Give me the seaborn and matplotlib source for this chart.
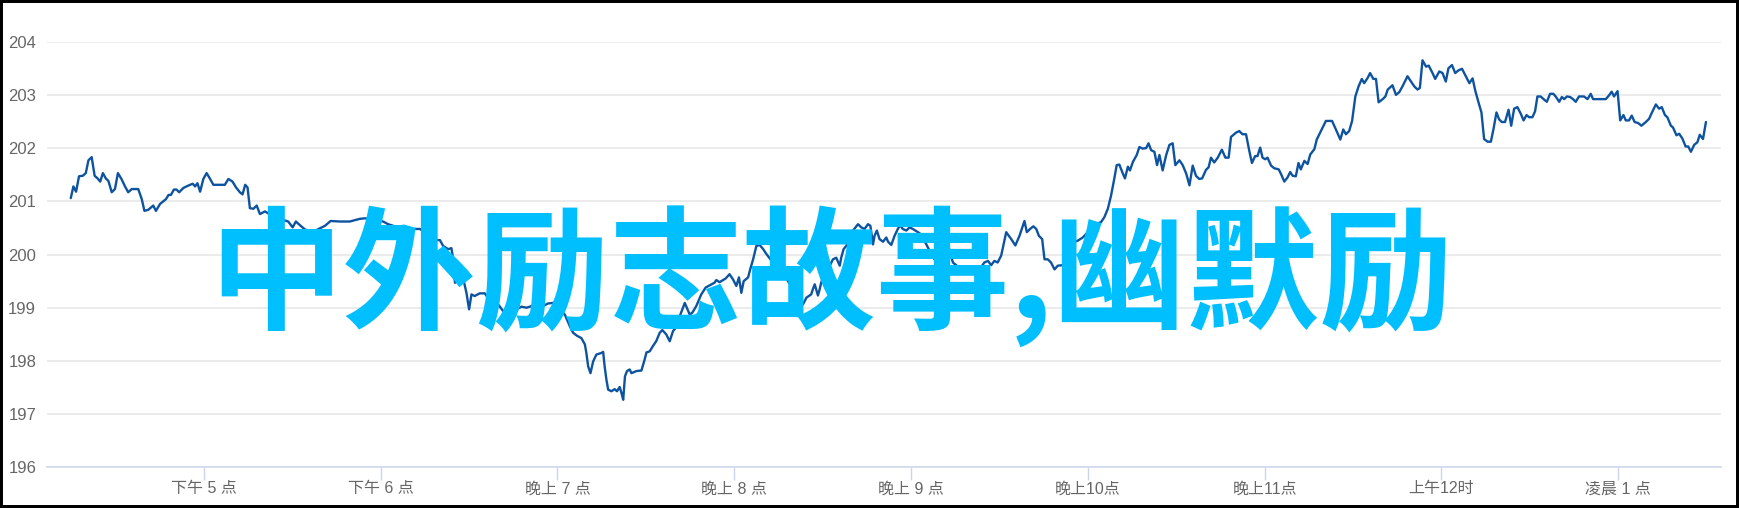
import matplotlib
matplotlib.use("Agg")
import matplotlib.pyplot as plt
import seaborn as sns
import pandas as pd
from matplotlib.patches import Rectangle

# 分钟数 (从 16:00 起算) 与价格, 按时间段分开记录
minutes_a = [14.8, 15.7, 16.6, 17.6, 18.9, 19.9, 20.8, 21.9, 22.9, 23.9,
             24.8, 25.7, 26.7, 27.6, 28.7, 29.8, 30.8, 32.1, 33.2, 34.3,
             35.5, 37.7, 38.9, 39.8, 41.1, 42.8, 43.7, 45.1, 47.1, 48.0,
             48.8, 49.8, 50.7, 51.6, 53.0, 54.1, 55.3, 56.2, 57.0, 57.8,
             58.7, 59.8, 60.9, 62.1, 63.2, 67.1, 68.3, 69.7, 70.9, 72.2,
             73.1, 74.0, 74.8, 75.6, 76.8, 77.9, 79.0, 80.7, 82.2, 83.5,
             85.2, 86.9, 88.6, 90.1, 91.2, 92.6, 94.3, 96.0, 98.2, 101.1,
             103.0]
price_a = [201.06, 201.28, 201.18, 201.47, 201.48, 201.53, 201.77, 201.83, 201.48, 201.43,
           201.37, 201.53, 201.43, 201.38, 201.17, 201.23, 201.53, 201.41, 201.28, 201.17,
           201.23, 201.23, 201.04, 200.82, 200.84, 200.92, 200.82, 200.95, 201.04, 201.12,
           201.12, 201.22, 201.22, 201.17, 201.25, 201.28, 201.31, 201.33, 201.28, 201.34,
           201.18, 201.42, 201.53, 201.42, 201.31, 201.31, 201.42, 201.37, 201.26, 201.17,
           201.13, 201.31, 201.26, 200.87, 200.86, 200.92, 200.76, 200.81, 200.76, 200.69,
           200.66, 200.65, 200.62, 200.51, 200.62, 200.55, 200.47, 200.44, 200.46, 200.54,
           200.63]

minutes_b = [106.1, 109.5, 112.9, 114.6, 117.4, 120.8, 122.5, 124.2, 125.9, 128.8,
             131.6, 133.3, 136.1, 138.9, 140.1, 141.2, 142.9, 144.0, 144.6, 145.2,
             146.8, 148.2, 149.1, 150.0, 150.8, 151.9, 153.6, 155.3, 157.6, 159.9,
             161.5, 163.8, 166.1, 167.8, 169.5, 172.3, 175.1, 176.8, 178.5, 180.8,
             182.5, 184.2, 185.3, 186.7, 188.1, 189.3, 189.8, 190.4, 191.2, 192.1,
             193.2, 194.9, 195.5, 196.0, 196.6, 197.2, 198.3, 199.4, 200.2, 201.1,
             201.7, 202.3, 202.9, 203.6, 204.5]
price_b = [200.62, 200.62, 200.67, 200.68, 200.66, 200.62, 200.57, 200.54, 200.48, 200.46,
           200.48, 200.48, 200.38, 200.27, 200.27, 200.16, 200.10, 200.12, 199.91, 199.47,
           199.53, 199.50, 199.28, 198.97, 199.25, 199.22, 199.27, 199.27, 199.10, 199.06,
           198.94, 198.94, 198.97, 199.02, 199.00, 199.05, 199.03, 199.08, 199.09, 198.97,
           198.87, 198.65, 198.53, 198.47, 198.43, 198.31, 198.15, 197.90, 197.77, 197.99,
           198.12, 198.15, 198.17, 197.90, 197.65, 197.46, 197.43, 197.47, 197.43, 197.51,
           197.40, 197.27, 197.71, 197.81, 197.84]

minutes_c = [205.1, 206.8, 208.5, 209.6, 210.2, 211.3, 212.4, 213.5, 214.7, 215.6,
             216.9, 218.1, 219.2, 220.1, 221.5, 223.2, 224.9, 225.8, 227.1, 228.8,
             230.3, 231.6, 233.3, 233.9, 235.0, 237.1, 238.4, 239.6, 240.7, 241.6,
             242.4, 243.2, 244.7, 245.4, 246.4, 247.5, 248.6, 249.7, 250.9, 253.1,
             255.4, 257.7, 259.9, 262.7, 263.3, 264.5, 266.1, 266.7, 267.3, 268.4,
             269.0, 269.5, 270.7, 271.8, 273.5, 274.6, 275.8, 276.3, 277.1, 278.0,
             279.2, 280.3, 282.0, 283.1, 284.2, 285.4, 286.2, 287.1, 287.6, 288.4,
             289.3, 290.5, 291.6, 292.2, 293.3, 294.4, 295.5, 296.3, 297.2, 298.4,
             299.5]
price_c = [197.77, 197.81, 197.82, 198.03, 198.16, 198.18, 198.28, 198.37, 198.53, 198.58,
           198.50, 198.37, 198.56, 198.62, 198.84, 199.09, 198.87, 198.91, 199.03, 199.25,
           199.38, 199.42, 199.47, 199.52, 199.48, 199.55, 199.63, 199.53, 199.41, 199.57,
           199.28, 199.50, 199.57, 199.72, 199.91, 200.16, 200.18, 200.11, 200.01, 199.85,
           199.60, 199.55, 199.35, 199.16, 199.06, 199.19, 199.25, 199.35, 199.44, 199.23,
           199.35, 199.47, 199.66, 199.72, 199.91, 199.94, 199.79, 199.94, 200.10, 200.16,
           200.29, 200.45, 200.57, 200.51, 200.48, 200.57, 200.54, 200.19, 200.35, 200.45,
           200.29, 200.24, 200.32, 200.24, 200.18, 200.35, 200.48, 200.55, 200.48, 200.45,
           200.51]

minutes_d = [300.6, 302.9, 305.1, 307.4, 309.7, 311.9, 313.0, 314.2, 316.4, 318.7,
             321.0, 323.2, 324.9, 326.1, 327.2, 328.3, 329.4, 330.6, 332.3, 334.0,
             335.4, 336.8, 338.5, 339.3, 340.4, 341.5, 342.5, 343.4, 344.5, 345.3,
             346.4, 347.5, 348.7, 349.8, 351.5, 353.2, 354.9, 356.6, 358.3, 360.0,
             362.8, 364.5, 365.6, 366.8, 367.9, 369.0, 369.8, 370.7, 371.9, 372.6,
             373.6, 374.3, 375.3, 376.6, 377.5, 378.6, 379.8, 380.6, 381.5, 382.6,
             383.5, 384.3, 385.4, 386.6, 387.7, 388.8, 389.7, 391.1, 392.2, 393.4,
             394.5]
price_d = [200.48, 200.40, 200.20, 199.95, 199.80, 199.79, 200.10, 199.85, 199.75, 199.70,
           199.70, 199.72, 199.85, 199.88, 199.80, 199.88, 199.85, 199.98, 200.42, 200.29,
           200.17, 200.35, 200.63, 200.42, 200.48, 200.53, 200.48, 200.35, 200.29, 199.91,
           199.91, 199.85, 199.72, 199.79, 199.80, 200.04, 200.23, 200.26, 200.32, 200.42,
           200.57, 200.61, 200.70, 200.86, 201.11, 201.43, 201.68, 201.69, 201.52, 201.43,
           201.65, 201.58, 201.74, 201.87, 202.02, 201.99, 202.00, 202.09, 201.96, 201.93,
           201.68, 201.87, 201.58, 201.87, 202.06, 202.09, 201.68, 201.77, 201.68, 201.52,
           201.30]

minutes_e = [395.6, 396.7, 397.8, 398.8, 400.1, 401.0, 401.8, 402.9, 404.1, 405.5,
             406.7, 407.8, 408.6, 410.3, 411.4, 412.5, 413.7, 414.8, 415.7, 416.8,
             417.6, 418.5, 419.3, 420.2, 421.0, 422.2, 423.3, 424.8, 425.6, 426.7,
             427.8, 428.7, 429.5, 430.6, 431.5, 432.3, 433.5, 434.6, 435.5, 436.9,
             437.7, 439.1, 440.8, 442.9, 444.2, 445.7, 446.7, 447.6, 448.7, 449.7,
             450.8, 451.9, 453.0, 453.8, 455.0, 455.8, 456.9, 457.8, 458.7, 460.1,
             461.0, 461.8, 463.4, 464.6, 465.7, 466.8, 468.5, 469.7, 470.8, 471.9,
             472.7, 473.6, 474.8, 475.7, 477.0, 477.9, 479.3, 480.4, 481.5, 482.4,
             483.6, 484.7, 485.8, 487.0, 488.3, 489.5]
price_e = [201.67, 201.48, 201.42, 201.43, 201.59, 201.64, 201.82, 201.73, 201.82, 201.97,
           201.82, 201.82, 202.21, 202.29, 202.32, 202.26, 202.26, 201.95, 201.72, 201.85,
           201.85, 202.01, 201.82, 201.79, 201.82, 201.67, 201.62, 201.60, 201.51, 201.37,
           201.45, 201.55, 201.48, 201.47, 201.72, 201.60, 201.76, 201.70, 201.88, 201.98,
           202.16, 202.32, 202.51, 202.51, 202.35, 202.16, 202.35, 202.26, 202.32, 202.51,
           202.97, 203.16, 203.30, 203.22, 203.32, 203.41, 203.30, 203.30, 202.86, 202.92,
           202.97, 203.10, 203.18, 203.00, 203.05, 203.16, 203.35, 203.25, 203.16, 203.10,
           203.13, 203.65, 203.53, 203.55, 203.41, 203.30, 203.44, 203.41, 203.25, 203.50,
           203.56, 203.41, 203.46, 203.49, 203.35, 203.22]

minutes_f = [490.6, 491.5, 492.6, 493.6, 494.5, 495.7, 496.8, 497.7, 498.7, 499.6,
             500.5, 501.6, 502.8, 503.7, 504.7, 505.8, 507.0, 507.9, 508.9, 509.8,
             510.9, 511.8, 512.6, 513.7, 514.9, 515.8, 516.9, 518.0, 518.8, 520.0,
             520.9, 521.7, 522.6, 523.7, 524.7, 525.6, 526.7, 528.4, 529.6, 530.7,
             531.5, 535.8, 536.9, 537.8, 538.6, 539.8, 540.7, 541.8, 542.6, 543.7,
             544.6, 545.6, 546.8, 547.9, 549.4, 550.5, 551.4, 552.8, 553.9, 554.8,
             555.9, 556.7, 557.9, 558.6, 559.8, 560.7, 561.8, 562.9, 563.8, 564.7,
             565.8, 566.9, 567.7, 568.8, 569.8]
price_f = [203.31, 203.08, 202.86, 202.67, 202.17, 202.12, 202.12, 202.36, 202.67, 202.54,
           202.49, 202.49, 202.72, 202.42, 202.74, 202.77, 202.64, 202.52, 202.62, 202.58,
           202.58, 202.69, 202.97, 202.97, 202.91, 202.87, 203.02, 203.02, 202.97, 202.87,
           202.96, 202.92, 202.97, 202.96, 202.92, 202.87, 202.97, 202.97, 202.92, 203.02,
           202.92, 202.92, 202.99, 203.06, 202.97, 203.07, 202.52, 202.62, 202.52, 202.52,
           202.61, 202.49, 202.47, 202.42, 202.49, 202.55, 202.66, 202.82, 202.74, 202.77,
           202.62, 202.58, 202.42, 202.39, 202.24, 202.27, 202.18, 202.03, 202.03, 201.93,
           202.06, 202.11, 202.25, 202.17, 202.49]

y_ticks = [196, 197, 198, 199, 200, 201, 202, 203, 204]
x_tick_minutes = [60, 120, 180, 240, 300, 360, 420, 480, 540]
x_tick_labels = ["下午 5 点", "下午 6 点", "晚上 7 点", "晚上 8 点", "晚上 9 点",
                 "晚上10点", "晚上11点", "上午12时", "凌晨 1 点"]
overlay_title = "中外励志故事,幽默励"

df = pd.DataFrame({
    "minute": minutes_a + minutes_b + minutes_c + minutes_d + minutes_e + minutes_f,
    "price": price_a + price_b + price_c + price_d + price_e + price_f,
})

sns.set_theme(style="white")
plt.rcParams["font.family"] = ["Liberation Sans", "Noto Sans CJK SC", "DejaVu Sans"]

fig = plt.figure(figsize=(17.39, 5.08), dpi=100)
ax = fig.add_axes([0.0268, 0.080, 0.963, 0.838])

sns.lineplot(data=df, x="minute", y="price", ax=ax, color="#0E539F",
             linewidth=1.7, estimator=None, sort=False)

ax.set_xlim(6.6, 575)
ax.set_ylim(196, 204)
ax.set_yticks(y_ticks)
ax.set_xticks(x_tick_minutes, x_tick_labels)
ax.set_xlabel("")
ax.set_ylabel("")

ax.yaxis.grid(True, color="#E6E6E6", linewidth=1.1)
ax.xaxis.grid(False)
ax.set_axisbelow(True)
for side in ["left", "right", "top"]:
    ax.spines[side].set_visible(False)
ax.spines["bottom"].set_color("#CCD6EB")
ax.spines["bottom"].set_linewidth(1.1)

ax.tick_params(axis="x", bottom=True, length=9, width=1, color="#CCD6EB",
               labelsize=11.5, labelcolor="#666666", pad=1)
ax.tick_params(axis="y", left=False, length=0, labelsize=12,
               labelcolor="#666666", pad=7.5)

# 大号水印标题
fig.text(0.478, 0.456, overlay_title, fontsize=96, fontweight="bold",
         color="#00BFFF", ha="center", va="center",
         family=["Noto Sans CJK SC", "DejaVu Sans"], zorder=10)

# 黑色外框
fig.add_artist(Rectangle((0, 0), 1, 1, transform=fig.transFigure, fill=False,
                         edgecolor="black", linewidth=4.3))

fig.savefig("out.png", dpi=100)
